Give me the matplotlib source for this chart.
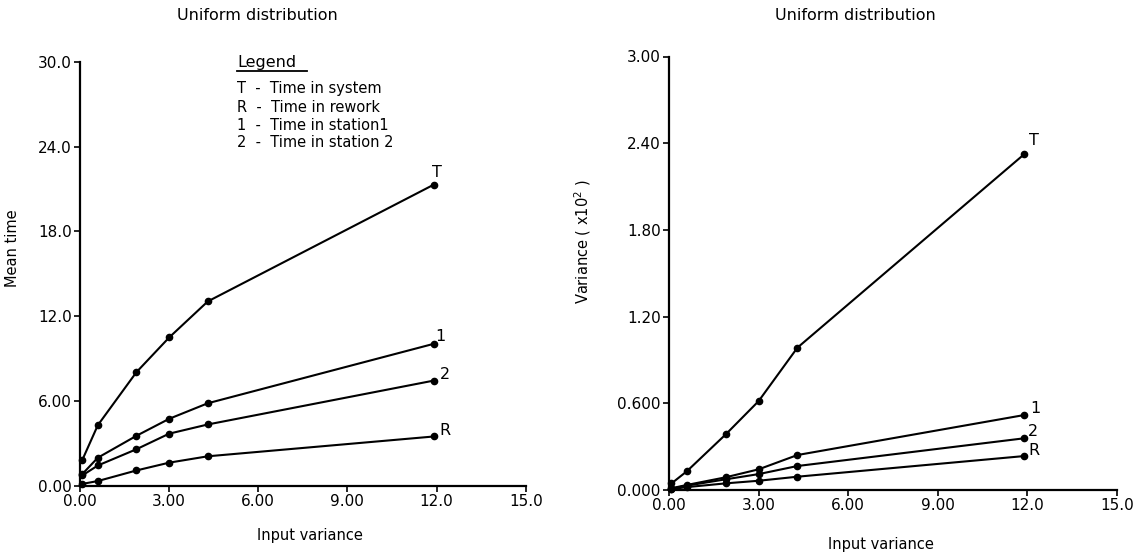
import numpy as np
import matplotlib.pyplot as plt
from matplotlib.lines import Line2D

# data
input_var = [0.08, 0.6, 1.9, 3.0, 4.3, 11.9]

mean_T = [1.85, 4.3, 8.05, 10.5, 13.05, 21.3]
mean_1 = [0.85, 2.0, 3.55, 4.75, 5.85, 10.05]
mean_2 = [0.75, 1.45, 2.6, 3.7, 4.35, 7.45]
mean_R = [0.15, 0.35, 1.1, 1.65, 2.1, 3.5]

var_T = [0.045, 0.13, 0.385, 0.615, 0.985, 2.325]
var_1 = [0.012, 0.035, 0.088, 0.143, 0.242, 0.519]
var_2 = [0.010, 0.030, 0.074, 0.110, 0.166, 0.358]
var_R = [0.006, 0.020, 0.046, 0.064, 0.092, 0.235]

x_ticks = [0, 3, 6, 9, 12, 15]
x_ticklabels = ['0.00', '3.00', '6.00', '9.00', '12.0', '15.0']
mean_ticks = [0, 6, 12, 18, 24, 30]
mean_ticklabels = ['0.00', '6.00', '12.0', '18.0', '24.0', '30.0']
var_ticks = [0, 0.6, 1.2, 1.8, 2.4, 3.0]
var_ticklabels = ['0.000', '0.600', '1.20', '1.80', '2.40', '3.00']

legend_rows = ['T  -  Time in system', 'R  -  Time in rework',
               '1  -  Time in station1', '2  -  Time in station 2']

W, H = 1137, 552
fs = 10.5

fig = plt.figure(figsize=(W / 100, H / 100), dpi=100)


def style(ax):
    for s in ['top', 'right']:
        ax.spines[s].set_visible(False)
    for s in ['left', 'bottom']:
        ax.spines[s].set_linewidth(1.6)
    ax.tick_params(direction='out', length=4, width=1.2, labelsize=fs + 0.5, pad=2)
    ax.set_xlim(0, 15)
    ax.set_xticks(x_ticks)
    ax.set_xticklabels(x_ticklabels)


def series(ax, y, label, off):
    ax.plot(input_var, y, color='black', lw=1.5, marker='o', ms=4.5, clip_on=False)
    ax.annotate(label, (input_var[-1], y[-1]), xytext=off, textcoords='offset pixels',
                ha='center', va='center', fontsize=fs + 1)


# left: mean time
ax1 = fig.add_axes([80 / W, 1 - 486 / H, 445.7 / W, 424.3 / H])
style(ax1)
ax1.set_ylim(0, 30)
ax1.set_yticks(mean_ticks)
ax1.set_yticklabels(mean_ticklabels)
series(ax1, mean_T, 'T', (3, 12))
series(ax1, mean_1, '1', (7, 7))
series(ax1, mean_2, '2', (11, 6))
series(ax1, mean_R, 'R', (11, 6))
ax1.set_ylabel('Mean time', fontsize=fs)
ax1.yaxis.set_label_coords(-0.135, 0.56)
ax1.set_xlabel('Input variance', fontsize=fs)
ax1.xaxis.set_label_coords(0.516, -0.098)

# right: variance
ax2 = fig.add_axes([669 / W, 1 - 490 / H, 448 / W, 433.5 / H])
style(ax2)
ax2.set_ylim(0, 3.0)
ax2.set_yticks(var_ticks)
ax2.set_yticklabels(var_ticklabels)
series(ax2, var_T, 'T', (10, 14))
series(ax2, var_1, '1', (11, 7))
series(ax2, var_2, '2', (9, 7))
series(ax2, var_R, 'R', (10, 6))
ax2.set_ylabel('Variance ( x10$^2$ )', fontsize=fs)
ax2.yaxis.set_label_coords(-0.17, 0.573)
ax2.set_xlabel('Input variance', fontsize=fs)
ax2.xaxis.set_label_coords(0.473, -0.108)

# titles
fig.text(257 / W, 1 - 15 / H, 'Uniform distribution', ha='center', va='center', fontsize=fs + 1)
fig.text(855 / W, 1 - 15 / H, 'Uniform distribution', ha='center', va='center', fontsize=fs + 1)

# legend block
fig.text(237 / W, 1 - 62 / H, 'Legend', ha='left', va='center', fontsize=fs + 1)
fig.add_artist(Line2D([237 / W, 307 / W], [1 - 71 / H, 1 - 71 / H], color='black', lw=1.3))
for i, row in enumerate(legend_rows):
    fig.text(237 / W, 1 - (89 + 18 * i) / H, row, ha='left', va='center', fontsize=fs)

fig.savefig('out.png', dpi=100)
